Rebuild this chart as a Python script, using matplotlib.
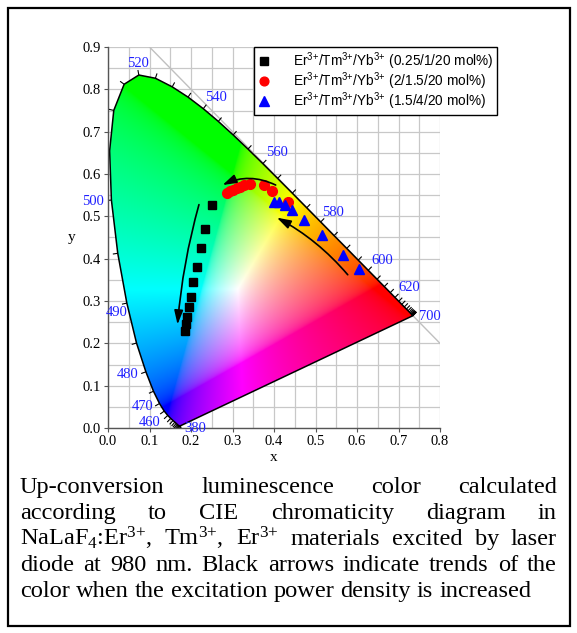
import numpy as np
import matplotlib
matplotlib.use("Agg")
import matplotlib.pyplot as plt
from matplotlib.patches import Polygon, FancyArrowPatch, Rectangle
from matplotlib.collections import LineCollection
from matplotlib.ticker import MultipleLocator, FormatStrFormatter

# CIE 1931 spectral locus, 380-700 nm every 5 nm
wavelengths = list(range(380, 705, 5))
locus_x = [0.1741, 0.1740, 0.1738, 0.1736, 0.1733, 0.1730, 0.1726, 0.1721, 0.1714, 0.1703,
           0.1689, 0.1669, 0.1644, 0.1611, 0.1566, 0.1510, 0.1440, 0.1355, 0.1241, 0.1096,
           0.0913, 0.0687, 0.0454, 0.0235, 0.0082, 0.0039, 0.0139, 0.0389, 0.0743, 0.1142,
           0.1547, 0.1929, 0.2296, 0.2658, 0.3016, 0.3373, 0.3731, 0.4087, 0.4441, 0.4788,
           0.5125, 0.5448, 0.5752, 0.6029, 0.6270, 0.6482, 0.6658, 0.6801, 0.6915, 0.7006,
           0.7079, 0.7140, 0.7190, 0.7230, 0.7260, 0.7283, 0.7300, 0.7311, 0.7320, 0.7327,
           0.7334, 0.7340, 0.7344, 0.7346, 0.7347]
locus_y = [0.0050, 0.0050, 0.0049, 0.0049, 0.0048, 0.0048, 0.0048, 0.0048, 0.0051, 0.0058,
           0.0069, 0.0086, 0.0109, 0.0138, 0.0177, 0.0227, 0.0297, 0.0399, 0.0578, 0.0868,
           0.1327, 0.2007, 0.2950, 0.4127, 0.5384, 0.6548, 0.7502, 0.8120, 0.8338, 0.8262,
           0.8059, 0.7816, 0.7543, 0.7243, 0.6923, 0.6589, 0.6245, 0.5896, 0.5547, 0.5202,
           0.4866, 0.4544, 0.4242, 0.3965, 0.3725, 0.3514, 0.3340, 0.3197, 0.3083, 0.2993,
           0.2920, 0.2859, 0.2809, 0.2770, 0.2740, 0.2717, 0.2700, 0.2689, 0.2680, 0.2673,
           0.2666, 0.2660, 0.2656, 0.2654, 0.2653]

# labelled wavelengths and label offsets (pixels)
label_wl = [380, 460, 470, 480, 490, 500, 520, 540, 560, 580, 600, 620, 700]
label_off = [(15, -3), (-18, -7), (-17, -3), (-18, -3), (-10, -9), (-18, -1), (-1, 12),
             (13, 11), (14, 11), (12, 10), (14, 10), (14, 10), (17, -1)]

# measured chromaticity coordinates
sq_x = [0.250, 0.234, 0.223, 0.214, 0.206, 0.199, 0.195, 0.191, 0.189, 0.186]
sq_y = [0.526, 0.470, 0.426, 0.381, 0.344, 0.310, 0.285, 0.262, 0.245, 0.230]
ci_x = [0.286, 0.294, 0.302, 0.310, 0.318, 0.328, 0.342, 0.377, 0.394, 0.433]
ci_y = [0.555, 0.559, 0.563, 0.567, 0.570, 0.574, 0.576, 0.573, 0.559, 0.534]
tr_x = [0.400, 0.413, 0.427, 0.443, 0.472, 0.516, 0.567, 0.605]
tr_y = [0.535, 0.534, 0.527, 0.515, 0.492, 0.455, 0.409, 0.376]

ion = r"Er$\mathregular{^{3{+}}}$/Tm$\mathregular{^{3{+}}}$/Yb$\mathregular{^{3{+}}}$"
labels = [ion + " (0.25/1/20 mol%)", ion + " (2/1.5/20 mol%)", ion + " (1.5/4/20 mol%)"]

# trend arrows: start, end, curvature
trend_arrows = [((0.221, 0.534), (0.167, 0.238), 0.05),
                ((0.410, 0.571), (0.270, 0.571), 0.26),
                ((0.582, 0.357), (0.401, 0.500), 0.10)]

caption = ["Up-conversion luminescence color calculated",
           "according to CIE chromaticity diagram in",
           r"NaLaF$\mathregular{_4}$:Er$\mathregular{^{3{+}}}$, Tm$\mathregular{^{3{+}}}$, "
           r"Er$\mathregular{^{3{+}}}$ materials excited by laser",
           "diode at 980 nm. Black arrows indicate trends of the",
           "color when the excitation power density is increased"]

W, H = 577, 633
fig = plt.figure(figsize=(W / 100, H / 100), dpi=100)
ax = fig.add_axes([108 / W, 1 - 428 / H, (440 - 108) / W, (428 - 47) / H])

ax.xaxis.set_major_locator(MultipleLocator(0.1))
ax.yaxis.set_major_locator(MultipleLocator(0.1))
ax.xaxis.set_minor_locator(MultipleLocator(0.05))
ax.yaxis.set_minor_locator(MultipleLocator(0.05))
ax.xaxis.set_major_formatter(FormatStrFormatter("%.1f"))
ax.yaxis.set_major_formatter(FormatStrFormatter("%.1f"))
ax.set_axisbelow(True)
ax.grid(which="both", color="#c8c8c8", lw=0.9)
ax.tick_params(which="minor", length=0)
ax.tick_params(which="major", length=3, width=0.8, color="#555555", labelsize=10.5, pad=2,
               labelfontfamily="Liberation Serif")
for s in ["top", "right"]:
    ax.spines[s].set_visible(False)
for s in ["left", "bottom"]:
    ax.spines[s].set_color("#555555")
    ax.spines[s].set_linewidth(1.0)
ax.set_xlabel("x", family="Liberation Serif", fontsize=11, labelpad=2)
ax.set_ylabel("y", family="Liberation Serif", fontsize=11, rotation=0, labelpad=8, va="center")

# diagonal x + y = 1
ax.plot([0.1, 0.8], [0.9, 0.2], color="#c0c0c0", lw=1.0, zorder=0.8)

# colour fill of the gamut
gx, gy = np.meshgrid(np.linspace(0, 0.8, 400), np.linspace(0.001, 0.9, 450))
X = gx / gy
Z = (1 - gx - gy) / gy
M = np.array([[3.2406, -1.5372, -0.4986], [-0.9689, 1.8758, 0.0415], [0.0557, -0.2040, 1.0570]])
rgb = np.einsum("ij,jyx->yxi", M, np.stack([X, np.ones_like(X), Z]))
rgb = np.clip(rgb, 0, None)
rgb = rgb / rgb.max(axis=2, keepdims=True)
rgb = np.where(rgb <= 0.0031308, 12.92 * rgb, 1.055 * rgb ** (1 / 2.4) - 0.055)
rgb = np.clip(rgb, 0, 1)

poly = Polygon(np.column_stack([locus_x, locus_y]), closed=True, facecolor="none",
               edgecolor="black", lw=1.1, zorder=2)
ax.add_patch(poly)
im = ax.imshow(rgb, extent=[0, 0.8, 0.001, 0.9], origin="lower", aspect="auto",
               interpolation="bilinear", zorder=1)
im.set_clip_path(poly)

# wavelength ticks perpendicular to the locus
lx = np.array(locus_x)
ly = np.array(locus_y)
tx = np.gradient(lx)
ty = np.gradient(ly)
segs = []
for i in range(len(lx)):
    n = np.array([ty[i], -tx[i]])
    norm = np.hypot(*n)
    if norm < 1e-4:
        n = np.array([0.0, -1.0])
    else:
        n = n / norm
    if np.dot(n, [lx[i] - 0.33, ly[i] - 0.33]) < 0:
        n = -n
    segs.append([(lx[i], ly[i]), (lx[i] + 0.012 * n[0], ly[i] + 0.012 * n[1])])
ax.add_collection(LineCollection(segs, colors="black", lw=0.8, zorder=2))

for w, off in zip(label_wl, label_off):
    i = wavelengths.index(w)
    ax.annotate(str(w), (lx[i], ly[i]), xytext=off, textcoords="offset pixels",
                ha="center", va="center", color="#2020ff", fontsize=10.5,
                family="Liberation Serif", annotation_clip=False, zorder=3)

# data
ax.plot(sq_x, sq_y, "s", color="black", ms=6, ls="none", zorder=4, label=labels[0])
ax.plot(ci_x, ci_y, "o", color="red", ms=7, ls="none", zorder=4, label=labels[1])
ax.plot(tr_x, tr_y, "^", color="blue", ms=7.5, ls="none", zorder=4, label=labels[2])

for start, end, rad in trend_arrows:
    ax.add_patch(FancyArrowPatch(start, end, connectionstyle=f"arc3,rad={rad}",
                                 arrowstyle="-|>,head_length=0.7,head_width=0.22",
                                 mutation_scale=12, lw=1.2, color="black", zorder=5))

ax.set_xlim(0, 0.8)
ax.set_ylim(0, 0.9)

leg = ax.legend(loc="upper right", bbox_to_anchor=(497 / W, 1 - 47 / H),
                bbox_transform=fig.transFigure, prop={"family": "Liberation Sans", "size": 9.8},
                frameon=True, fancybox=False, framealpha=1, edgecolor="black",
                borderaxespad=0, handlelength=1.0, handletextpad=1.6,
                borderpad=0.25, labelspacing=-0.12, markerscale=0.9)
leg.get_frame().set_linewidth(1.0)

# outer frame
fig.add_artist(Rectangle((8 / W, 1 - 626 / H), 562 / W, 618 / H, transform=fig.transFigure,
                         fill=False, edgecolor="black", lw=1.6))

# justified caption
fs = 17.6
left, right = 20, 557
baselines = [493, 519, 545, 571, 597]
fig.canvas.draw()
renderer = fig.canvas.get_renderer()
for k, line in enumerate(caption):
    words = line.split(" ")
    texts = [fig.text(0, 1 - baselines[k] / H, w, family="Liberation Serif", fontsize=fs,
                      va="baseline", ha="left") for w in words]
    widths = [t.get_window_extent(renderer).width for t in texts]
    if k < len(caption) - 1:
        gap = (right - left - sum(widths)) / (len(words) - 1)
    else:
        gap = 0.25 * fs * 100 / 72
    x = left
    for t, wd in zip(texts, widths):
        t.set_x(x / W)
        x += wd + gap

fig.savefig("out.png", dpi=100)
